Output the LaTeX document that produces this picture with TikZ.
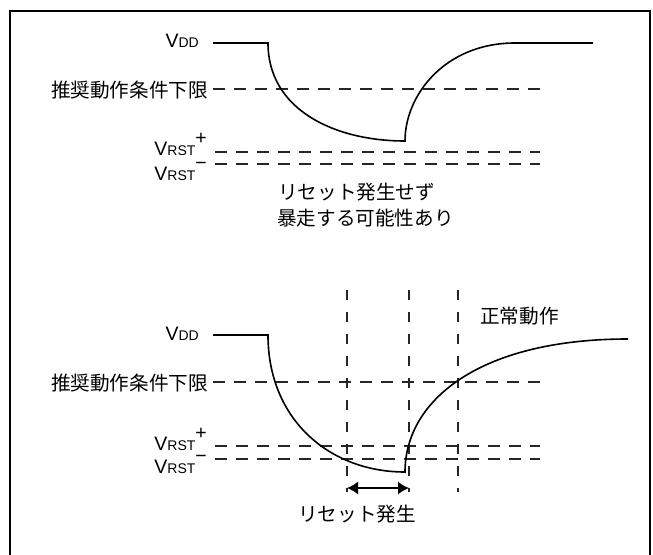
\documentclass[tikz,border=0pt]{standalone}
\usepackage{fontspec}
\setmainfont{Liberation Sans}
\newfontfamily\jpfont{Noto Sans CJK JP}
\usetikzlibrary{arrows.meta}
\newcommand{\lowcap}[1]{{\fontsize{14}{14}\selectfont #1}}
\newcommand{\vddtext}{V\lowcap{DD}}
\newcommand{\vrsttext}[1]{V\lowcap{RST}\raisebox{10.5pt}{#1}}
\tikzset{
  frame/.style={line width=2.4pt,draw=black},
  wave/.style={line width=1.6pt,draw=black},
  guide/.style={line width=1.2pt,draw=black!85,dash pattern=on 12pt off 9pt},
  marker/.style={line width=1.2pt,draw=black!85,dash pattern=on 10pt off 12pt},
  lbl/.style={inner sep=0pt,font=\fontsize{19.5}{20}\selectfont},
  jp/.style={lbl,font=\fontsize{19.6}{20}\selectfont\jpfont},
  span/.style={line width=1.5pt,{Latex[length=11pt,width=13pt]}-{Latex[length=11pt,width=13pt]}}
}
\begin{document}
\begin{tikzpicture}[x=1pt,y=-1pt]
  \useasboundingbox (0,0) rectangle (653,554);
  \draw[frame] (10,556) -- (10,11) -- (650,11) -- (650,556);

  % upper chart: reset not triggered
  \node[lbl,anchor=base east] (vddA) at (199,47) {\vddtext};
  \node[jp,anchor=base east] (minA) at (208,97) {推奨動作条件下限};
  \node[lbl,anchor=base east] (rstpA) at (207,155) {\vrsttext{+}};
  \node[lbl,anchor=base east] (rstmA) at (207,180) {\vrsttext{−}};

  \draw[guide] (213,89) -- (540,89);
  \draw[guide] (215,152) -- (540,152);
  \draw[guide] (215,164) -- (540,164);

  \draw[wave] (213,43) -- (268,43)
    .. controls (268,110) and (335,141) .. (405,141)
    .. controls (405,95) and (445,43) .. (515,43) -- (593,43);

  \node[jp,anchor=base west] (noreset) at (278,199) {リセット発生せず};
  \node[jp,anchor=base west] (runaway) at (277,225) {暴走する可能性あり};

  % lower chart: reset triggered
  \node[lbl,anchor=base east] (vddB) at (199,340) {\vddtext};
  \node[jp,anchor=base east] (minB) at (208,390) {推奨動作条件下限};
  \node[lbl,anchor=base east] (rstpB) at (207,450) {\vrsttext{+}};
  \node[lbl,anchor=base east] (rstmB) at (207,473) {\vrsttext{−}};

  \draw[guide] (213,382) -- (540,382);
  \draw[guide] (215,446) -- (540,446);
  \draw[guide] (215,459) -- (540,459);

  \foreach \x/\name in {347/tA,409/tB,458/tC}
    \draw[marker] (\x,290) coordinate (\name top) -- (\x,492) coordinate (\name bot);

  \draw[wave] (213,335) -- (268,335)
    .. controls (268,420) and (330,472) .. (405,472)
    .. controls (405,400) and (480,339) .. (628,339);

  \coordinate (spanL) at (347,488);
  \coordinate (spanR) at (409,488);
  \draw[span] (spanL) -- (spanR);

  \node[jp,anchor=base west] (reset) at (298,521) {リセット発生};
  \node[jp,anchor=base west] (normal) at (480,323) {正常動作};
\end{tikzpicture}
\end{document}
